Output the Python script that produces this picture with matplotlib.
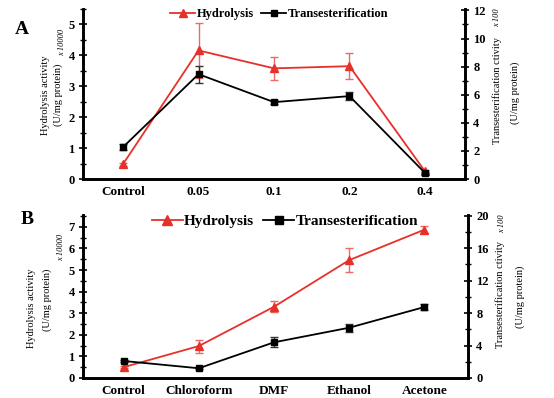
import matplotlib
matplotlib.use("Agg")
import matplotlib.pyplot as plt
from matplotlib.ticker import MultipleLocator
from matplotlib.lines import Line2D

plt.rcParams['font.family'] = ['Liberation Serif', 'DejaVu Serif']

# ---- data ----
cats_a = ["Control", "0.05", "0.1", "0.2", "0.4"]
hyd_a = [0.48, 4.16, 3.58, 3.65, 0.25]
hyd_a_err = [0.05, 0.9, 0.38, 0.42, 0.05]
tra_a = [2.27, 7.46, 5.47, 5.9, 0.43]
tra_a_err = [0.2, 0.6, 0.15, 0.3, 0.1]

cats_b = ["Control", "Chloroform", "DMF", "Ethanol", "Acetone"]
hyd_b = [0.5, 1.48, 3.3, 5.46, 6.87]
hyd_b_err = [0.05, 0.3, 0.25, 0.55, 0.15]
tra_b = [2.1, 1.2, 4.4, 6.2, 8.75]
tra_b_err = [0.1, 0.1, 0.6, 0.5, 0.4]

RED = '#e8302a'
ERR_RED = '#ee6a60'
W, H = 554, 398

fig = plt.figure(figsize=(W / 100, H / 100), dpi=100)


def fx(px):
    return px / W


def fy(py):
    return 1 - py / H


def panel(rect, cats, hyd, hyd_err, tra, tra_err, lylim, rylim, lmaj, lmin, rmaj, rmin, xlim):
    ax = fig.add_axes(rect)
    ax2 = ax.twinx()
    x = list(range(len(cats)))
    ax.errorbar(x, hyd, yerr=hyd_err, color=RED, ecolor=ERR_RED, elinewidth=1.0,
                capsize=3, capthick=1.0, marker='^', markersize=6, lw=1.3, zorder=3)
    ax2.errorbar(x, tra, yerr=tra_err, color='black', ecolor='#333333', elinewidth=1.0,
                 capsize=3, capthick=1.0, marker='s', markersize=5, lw=1.3, zorder=3)
    ax.set_ylim(*lylim)
    ax2.set_ylim(*rylim)
    ax.set_xlim(*xlim)
    ax.set_xticks(x)
    ax.set_xticklabels(cats, fontweight='bold', fontsize=9.5)
    ax.tick_params(axis='x', length=0, pad=5)
    ax.yaxis.set_major_locator(MultipleLocator(lmaj))
    ax.yaxis.set_minor_locator(MultipleLocator(lmin))
    ax2.yaxis.set_major_locator(MultipleLocator(rmaj))
    ax2.yaxis.set_minor_locator(MultipleLocator(rmin))
    for a in (ax, ax2):
        a.tick_params(axis='y', which='major', direction='inout', length=6, width=1.2,
                      labelsize=9, pad=3)
        a.tick_params(axis='y', which='minor', direction='inout', length=4, width=1.0)
        for lab in a.get_yticklabels():
            lab.set_fontweight('bold')
        a.spines['top'].set_visible(False)
        for s in ('left', 'right', 'bottom'):
            a.spines[s].set_linewidth(1.9)
    ax.set_facecolor('none')
    return ax, ax2


# Panel A
axA, axA2 = panel([fx(83), fy(179), fx(465 - 83), (179 - 9) / H],
                  cats_a, hyd_a, hyd_a_err, tra_a, tra_a_err,
                  (0, 5.5), (0, 12.1), 1, 0.5, 2, 1, (-0.53, 4.53))
# Panel B
axB, axB2 = panel([fx(83), fy(378), fx(468 - 83), (378 - 215) / H],
                  cats_b, hyd_b, hyd_b_err, tra_b, tra_b_err,
                  (0, 7.55), (0, 20.1), 1, 0.5, 4, 2, (-0.54, 4.58))

# legends
def legend(ax, anchor, fs, ms):
    h1 = Line2D([], [], color=RED, marker='^', markersize=ms + 1, lw=1.3)
    h2 = Line2D([], [], color='black', marker='s', markersize=ms, lw=1.3)
    leg = ax.legend([h1, h2], ["Hydrolysis", "Transesterification"], ncol=2,
                    loc='center', bbox_to_anchor=anchor, bbox_transform=fig.transFigure,
                    frameon=False, prop={'weight': 'bold', 'size': fs},
                    handlelength=2.0, handletextpad=0.1, columnspacing=0.6)
    return leg

legend(axA2, (fx(279), fy(14)), 9, 5)
legend(axB2, (fx(285), fy(221)), 11, 6)

# panel letters
fig.text(fx(22), fy(30), "A", fontsize=14, fontweight='bold', va='center', ha='center')
fig.text(fx(27), fy(219), "B", fontsize=14, fontweight='bold', va='center', ha='center')

# axis labels
lab_fs = 7.5
# A left
fig.text(fx(45), fy(95), "Hydrolysis activity", rotation=90, fontsize=lab_fs, ha='center', va='center')
fig.text(fx(58), fy(95), "(U/mg protein)", rotation=90, fontsize=lab_fs, ha='center', va='center')
fig.text(fx(62), fy(42), "x 10000", rotation=90, fontsize=6, style='italic', ha='center', va='center')
# A right
fig.text(fx(497), fy(90), "Transesterification ctivity", rotation=90, fontsize=lab_fs, ha='center', va='center')
fig.text(fx(497), fy(18), "x 100", rotation=90, fontsize=6, style='italic', ha='center', va='center')
fig.text(fx(515), fy(93), "(U/mg protein)", rotation=90, fontsize=lab_fs, ha='center', va='center')
# B left
fig.text(fx(32), fy(308), "Hydrolysis activity", rotation=90, fontsize=lab_fs, ha='center', va='center')
fig.text(fx(47), fy(300), "(U/mg protein)", rotation=90, fontsize=lab_fs, ha='center', va='center')
fig.text(fx(61), fy(247), "x 10000", rotation=90, fontsize=6, style='italic', ha='center', va='center')
# B right
fig.text(fx(500), fy(295), "Transesterification ctivity", rotation=90, fontsize=lab_fs, ha='center', va='center')
fig.text(fx(502), fy(224), "x 100", rotation=90, fontsize=6, style='italic', ha='center', va='center')
fig.text(fx(520), fy(297), "(U/mg protein)", rotation=90, fontsize=lab_fs, ha='center', va='center')

fig.savefig("out.png", dpi=100)
